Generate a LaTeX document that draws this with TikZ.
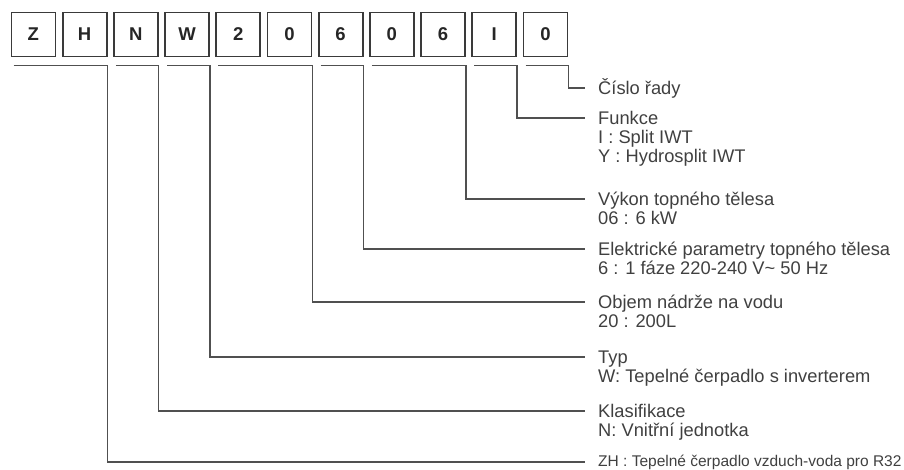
\documentclass[tikz,border=0pt]{standalone}
\usepackage{fontspec}
\setmainfont{Liberation Sans}
\definecolor{boxline}{HTML}{3A3A3A}
\definecolor{connline}{HTML}{505050}
\definecolor{txt}{HTML}{404040}
\definecolor{lettr}{HTML}{262626}
\begin{document}
\begin{tikzpicture}[x=1pt,y=-1pt,
  digit/.style={draw=boxline,line width=1.8pt,minimum width=44pt,minimum height=44pt,inner sep=0pt,
    font=\fontsize{18.5}{20}\selectfont\bfseries,text=lettr,anchor=north west},
  conn/.style={draw=connline,line width=1.5pt},
  lbl/.style={anchor=base west,inner sep=0pt,text=txt,font=\fontsize{18.3}{20}\selectfont},
  lblsmall/.style={anchor=base west,inner sep=0pt,text=txt,font=\fontsize{15.5}{18}\selectfont}]
\useasboundingbox (0,0) rectangle (904,469);
% code boxes
\foreach \ch [count=\i from 0] in {Z,H,N,W,2,0,6,0,6,I,0}
  \node[digit] (b\i) at ({10.5+51.2*\i},11.5) {\ch};
% line-end coordinates
\coordinate (e0)  at (585,88);
\coordinate (eI)  at (585,118);
\coordinate (e06) at (585,199);
\coordinate (e6)  at (585,249);
\coordinate (e20) at (585,302);
\coordinate (eW)  at (585,357);
\coordinate (eN)  at (585,411);
\coordinate (eZH) at (585,462);
% connectors
\draw[conn] ([xshift=3pt,yshift=-8pt]b10.south west) -- ([yshift=-8pt]b10.south east) |- (e0);
\draw[conn] ([xshift=3pt,yshift=-8pt]b9.south west) -- ([yshift=-8pt]b9.south east) |- (eI);
\draw[conn] ([xshift=3pt,yshift=-8pt]b7.south west) -- ([yshift=-8pt]b8.south east) |- (e06);
\draw[conn] ([xshift=3pt,yshift=-8pt]b6.south west) -- ([yshift=-8pt]b6.south east) |- (e6);
\draw[conn] ([xshift=3pt,yshift=-8pt]b4.south west) -- ([yshift=-8pt]b5.south east) |- (e20);
\draw[conn] ([xshift=3pt,yshift=-8pt]b3.south west) -- ([yshift=-8pt]b3.south east) |- (eW);
\draw[conn] ([xshift=3pt,yshift=-8pt]b2.south west) -- ([yshift=-8pt]b2.south east) |- (eN);
\draw[conn] ([xshift=3pt,yshift=-8pt]b0.south west) -- ([yshift=-8pt]b1.south east) |- (eZH);
% labels
\node[lbl] (t0a) at (598,94) {Číslo řady};
\node[lbl] (tIa) at (598,124) {Funkce};
\node[lbl] (tIb) at (598,143) {I : Split IWT};
\node[lbl] (tIc) at (598,162) {Y : Hydrosplit IWT};
\node[lbl] (t06a) at (598,205) {Výkon topného tělesa};
\node[lbl] (t06b) at (598,224) {06 : 6 kW};
\node[lbl] (t6a) at (598,255) {Elektrické parametry topného tělesa};
\node[lbl] (t6b) at (598,274) {6 : 1 fáze 220-240 V\textasciitilde{} 50 Hz};
\node[lbl] (t20a) at (598,308) {Objem nádrže na vodu};
\node[lbl] (t20b) at (598,327) {20 : 200L};
\node[lbl] (tWa) at (598,363) {Typ};
\node[lbl] (tWb) at (598,382) {W: Tepelné čerpadlo s inverterem};
\node[lbl] (tNa) at (598,417) {Klasifikace};
\node[lbl] (tNb) at (598,436) {N: Vnitřní jednotka};
\node[lblsmall] (tZH) at (598,466) {ZH : Tepelné čerpadlo vzduch-voda pro R32};
\end{tikzpicture}
\end{document}
